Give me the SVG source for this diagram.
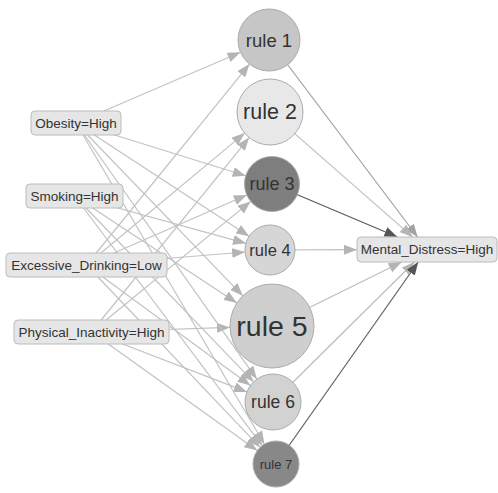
<svg xmlns="http://www.w3.org/2000/svg" width="498" height="493" viewBox="0 0 498 493">
<style>
.e{fill:none;stroke:#c2c2c2;stroke-width:1.2;marker-end:url(#mL)}
.box{fill:#e6e6e6;stroke:#bcbcbc;stroke-width:1}
.bt{font-family:"Liberation Sans",Arial,sans-serif;font-size:13.5px;fill:#333;text-anchor:middle;dominant-baseline:central}
.rc{stroke:#ababab;stroke-width:1}
.rt{font-family:"Liberation Sans",Arial,sans-serif;fill:#333;text-anchor:middle;dominant-baseline:central}
</style>
<defs>
<marker id="mL" markerUnits="userSpaceOnUse" markerWidth="13" markerHeight="10" refX="13" refY="5" orient="auto" viewBox="0 0 13 10"><path d="M0,0 L13,5 L0,10 z" fill="#b4b4b4"/></marker>
<marker id="mM" markerUnits="userSpaceOnUse" markerWidth="13" markerHeight="10" refX="13" refY="5" orient="auto" viewBox="0 0 13 10"><path d="M0,0 L13,5 L0,10 z" fill="#a2a2a2"/></marker>
<marker id="mD" markerUnits="userSpaceOnUse" markerWidth="13" markerHeight="10" refX="13" refY="5" orient="auto" viewBox="0 0 13 10"><path d="M0,0 L13,5 L0,10 z" fill="#555"/></marker>
</defs>
<rect width="498" height="493" fill="#fff"/>
<g id="connectors">
<line class="e" x1="76" y1="123" x2="240.5" y2="52.2"/>
<line class="e" x1="86.5" y1="265" x2="249.5" y2="64.1"/>
<line class="e" x1="86.5" y1="265" x2="244.7" y2="133.1"/>
<line class="e" x1="91.5" y1="332" x2="249.2" y2="137.6"/>
<line class="e" x1="76" y1="123" x2="245.7" y2="175.8"/>
<line class="e" x1="86.5" y1="265" x2="246.8" y2="195"/>
<line class="e" x1="91.5" y1="332" x2="250.7" y2="201.4"/>
<line class="e" x1="76" y1="123" x2="249.1" y2="236.3"/>
<line class="e" x1="74.5" y1="196" x2="245.9" y2="243.3"/>
<line class="e" x1="86.5" y1="265" x2="245.1" y2="252"/>
<line class="e" x1="76" y1="123" x2="242.8" y2="295.8"/>
<line class="e" x1="74.5" y1="196" x2="236.9" y2="302.9"/>
<line class="e" x1="91.5" y1="332" x2="230" y2="327.4"/>
<line class="e" x1="76" y1="123" x2="256.8" y2="379.1"/>
<line class="e" x1="74.5" y1="196" x2="253.6" y2="381.8"/>
<line class="e" x1="86.5" y1="265" x2="250.4" y2="385.4"/>
<line class="e" x1="91.5" y1="332" x2="246.9" y2="391.9"/>
<line class="e" x1="76" y1="123" x2="264.4" y2="444.2"/>
<line class="e" x1="74.5" y1="196" x2="262.2" y2="445.6"/>
<line class="e" x1="86.5" y1="265" x2="260.1" y2="447.3"/>
<line class="e" x1="91.5" y1="332" x2="257.3" y2="450.6"/>
<line x1="269" y1="40" x2="417.6" y2="237" stroke="#a0a0a0" stroke-width="1.2" marker-end="url(#mM)"/>
<line x1="270" y1="112" x2="412.7" y2="237" stroke="#c8c8c8" stroke-width="1.2" marker-end="url(#mL)"/>
<line x1="272" y1="184" x2="397.4" y2="237" stroke="#5c5c5c" stroke-width="1.3" marker-end="url(#mD)"/>
<line x1="270" y1="250" x2="357" y2="249.7" stroke="#bdbdbd" stroke-width="1.2" marker-end="url(#mL)"/>
<line x1="272" y1="326" x2="401.7" y2="262" stroke="#bdbdbd" stroke-width="1.2" marker-end="url(#mL)"/>
<line x1="273" y1="402" x2="414.4" y2="262" stroke="#bdbdbd" stroke-width="1.2" marker-end="url(#mL)"/>
<line x1="276" y1="464" x2="418.2" y2="262" stroke="#666" stroke-width="1.3" marker-end="url(#mD)"/>
</g>
<g id="item-obesity"><rect class="box" x="31" y="111" width="90" height="24" rx="4"/><text class="bt" x="76" y="123">Obesity=High</text></g>
<g id="item-smoking"><rect class="box" x="26" y="184" width="97" height="24" rx="4"/><text class="bt" x="74.5" y="196">Smoking=High</text></g>
<g id="item-drinking"><rect class="box" x="6" y="253" width="161" height="24" rx="4"/><text class="bt" x="86.5" y="265">Excessive_Drinking=Low</text></g>
<g id="item-inactivity"><rect class="box" x="14" y="320" width="155" height="24" rx="4"/><text class="bt" x="91.5" y="332">Physical_Inactivity=High</text></g>
<g id="item-distress"><rect class="box" x="357" y="237" width="140" height="25" rx="4"/><text class="bt" x="427" y="249.5">Mental_Distress=High</text></g>
<g id="rule1"><circle class="rc" cx="269" cy="40" r="31" fill="#c6c6c6"/><text class="rt" x="269" y="40" font-size="18.5">rule 1</text></g>
<g id="rule2"><circle class="rc" cx="270" cy="112" r="33" fill="#e8e8e8" stroke="#c6c6c6"/><text class="rt" x="270" y="112" font-size="21.5">rule 2</text></g>
<g id="rule3"><circle class="rc" cx="272" cy="184" r="27.5" fill="#7e7e7e" stroke="#6a6a6a"/><text class="rt" x="272" y="184" font-size="18">rule 3</text></g>
<g id="rule4"><circle class="rc" cx="270" cy="250" r="25" fill="#d6d6d6"/><text class="rt" x="270" y="250" font-size="16.5">rule 4</text></g>
<g id="rule5"><circle class="rc" cx="272" cy="326" r="42" fill="#cfcfcf"/><text class="rt" x="272" y="326" font-size="28.5">rule 5</text></g>
<g id="rule6"><circle class="rc" cx="273" cy="402" r="28" fill="#d2d2d2"/><text class="rt" x="273" y="402" font-size="17.5">rule 6</text></g>
<g id="rule7"><circle class="rc" cx="276" cy="464" r="23" fill="#888888" stroke="#707070"/><text class="rt" x="276" y="464" font-size="13">rule 7</text></g>
</svg>
